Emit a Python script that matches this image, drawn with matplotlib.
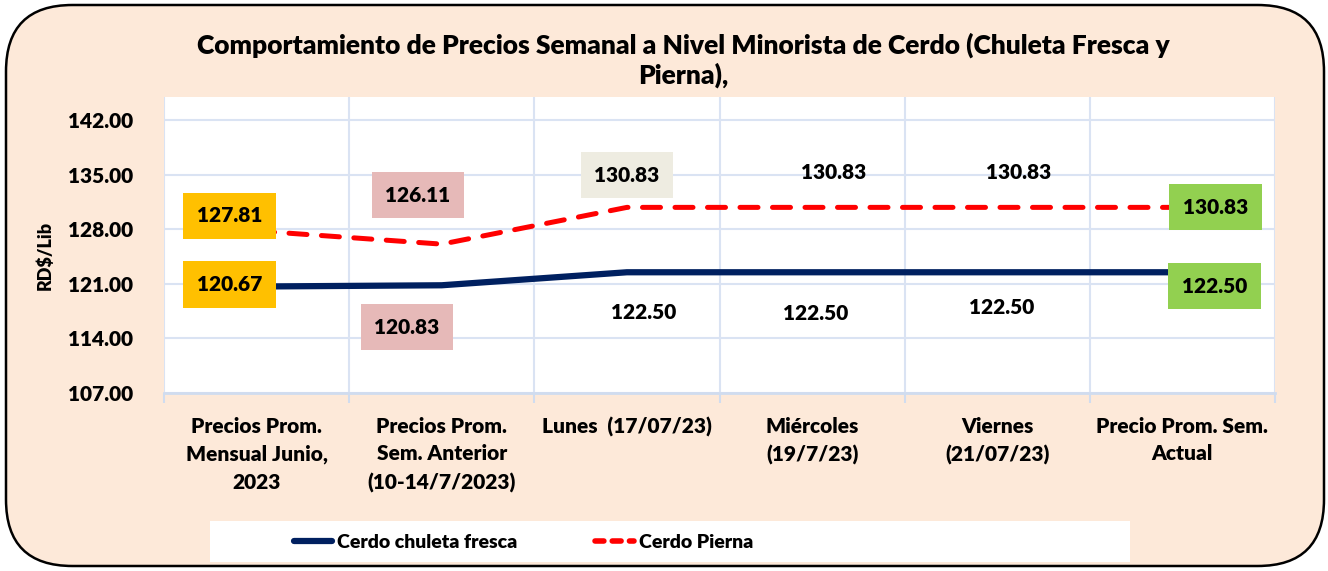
import numpy as np
import matplotlib.pyplot as plt
from matplotlib.patches import FancyBboxPatch, Rectangle
from matplotlib.lines import Line2D

plt.rcParams['font.family'] = ['Lato', 'DejaVu Sans']
PESO = 'heavy'

# datos
categorias = ['Precios Prom.\nMensual Junio,\n2023',
              'Precios Prom.\nSem. Anterior\n(10-14/7/2023)',
              'Lunes  (17/07/23)',
              'Miércoles\n(19/7/23)',
              'Viernes\n(21/07/23)',
              'Precio Prom. Sem.\nActual']
chuleta = [120.67, 120.83, 122.50, 122.50, 122.50, 122.50]
pierna = [127.81, 126.11, 130.83, 130.83, 130.83, 130.83]
yticks = [107, 114, 121, 128, 135, 142]

# estilo de etiquetas (offset en px, color de caja)
off_ch = [(-27, 2), (-35, -42), (17, -40), (4, -41), (4, -35), (32, -14)]
box_ch = ['#FFC000', '#E6B9B8', None, None, None, '#92D050']
off_pi = [(-27, 15), (-24, 49), (0, 32), (22, 35), (21, 35), (33, 0)]
box_pi = ['#FFC000', '#E6B9B8', '#EEECE1', None, None, '#92D050']

fig = plt.figure(figsize=(13.28, 5.71), dpi=100)
fig.patch.set_facecolor('white')
fondo = FancyBboxPatch((6 / 1328, 5 / 571), 1318 / 1328, 561 / 571,
                       boxstyle='round,pad=0,rounding_size=0.05',
                       transform=fig.transFigure, facecolor='#FDE9D9',
                       edgecolor='black', linewidth=1.8, mutation_aspect=1328 / 571,
                       zorder=-10)
fig.patches.append(fondo)

ax = fig.add_axes([164 / 1328, 1 - 393 / 571, 1111 / 1328, 296 / 571])
ax.set_facecolor('white')
x = np.arange(len(categorias))

ax.plot(x, chuleta, color='#002060', lw=4.5, solid_capstyle='butt', zorder=3)
lp, = ax.plot(x, pierna, color='#FF0000', lw=3.6, zorder=3)
lp.set_dashes((3.6, 2.9))
lp.set_dash_capstyle('round')

ax.set_xlim(-0.5, 5.5)
ax.set_ylim(107, 145)
ax.set_yticks(yticks)
ax.set_yticklabels([f'{v:.2f}' for v in yticks], fontsize=15, fontweight=PESO)
ax.set_xticks(x)
ax.set_xticklabels(categorias, fontsize=15, fontweight=PESO, linespacing=1.55,
                   va='top')
ax.set_xticks(np.arange(-0.5, 6, 0.5), minor=True)
ax.tick_params(axis='x', which='major', length=0, pad=17)
ax.tick_params(axis='x', which='minor', length=7, color='#D0DCEF', width=1.5)
ax.tick_params(axis='y', length=0, pad=22)
ax.grid(True, axis='y', color='#DAE3F3', lw=1.5)
ax.grid(True, axis='x', which='minor', color='#DAE3F3', lw=1.5)
ax.set_axisbelow(True)
for s in ['top', 'right', 'left']:
    ax.spines[s].set_visible(False)
ax.spines['bottom'].set_color('#D0DCEF')
ax.spines['bottom'].set_linewidth(2)

def etiquetas(valores, offs, cajas):
    for i, v in enumerate(valores):
        dx, dy = offs[i]
        bb = None
        if cajas[i]:
            bb = dict(boxstyle='square,pad=0.65', facecolor=cajas[i], edgecolor='none')
        ax.annotate(f'{v:.2f}', xy=(x[i], v), xytext=(dx * 0.72, dy * 0.72),
                    textcoords='offset points', ha='center', va='center',
                    fontsize=15, fontweight=PESO, bbox=bb, zorder=5)

etiquetas(chuleta, off_ch, box_ch)
etiquetas(pierna, off_pi, box_pi)

fig.text(683 / 1328, 1 - 60 / 571,
         'Comportamiento de Precios Semanal a Nivel Minorista de Cerdo (Chuleta Fresca y\nPierna),',
         ha='center', va='center', fontsize=19, fontweight=PESO, linespacing=1.2)
fig.text(45 / 1328, 1 - 255 / 571, 'RD$/Lib', rotation=90, ha='center', va='center',
         fontsize=13, fontweight=PESO)

# leyenda
fig.patches.append(Rectangle((210 / 1328, 1 - 562 / 571), 920 / 1328, 41 / 571,
                             transform=fig.transFigure, facecolor='white',
                             edgecolor='none', zorder=-5))
h1 = Line2D([], [], color='#002060', lw=4.5, solid_capstyle='round')
h2 = Line2D([], [], color='#FF0000', lw=4, dash_capstyle='round')
h2.set_dashes((1.6, 1.5))
leg = fig.legend([h1, h2], ['Cerdo chuleta fresca', 'Cerdo Pierna'],
                 loc='center left', bbox_to_anchor=(276 / 1328, 1 - 542 / 571),
                 ncol=2, frameon=False, handlelength=2.0, handletextpad=0.25,
                 columnspacing=4.0, prop={'weight': PESO, 'size': 14})

fig.savefig('out.png', dpi=100, facecolor=fig.get_facecolor())
